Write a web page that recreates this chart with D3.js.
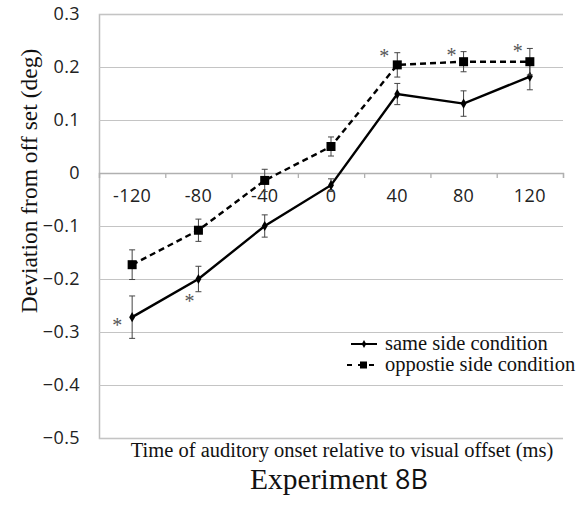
<!DOCTYPE html>
<html>
<head>
<meta charset="utf-8">
<script src="https://cdn.jsdelivr.net/npm/d3@7"></script>
<style>
  body { margin: 0; background: #fff; }
  svg { display: block; }
  .tick text { font-family: "Open Sans", sans-serif; fill: #222; letter-spacing: 0.4px; }
</style>
</head>
<body>
<div id="chart"></div>
<script>
// categories: time of auditory onset relative to visual offset (ms)
const categories = ["-120", "-80", "-40", "0", "40", "80", "120"];
const yTicks = [0.3, 0.2, 0.1, 0, -0.1, -0.2, -0.3, -0.4, -0.5];

// mean deviation (deg) and error bar half-width
const sameSide = [-0.272, -0.200, -0.100, -0.023, 0.149, 0.131, 0.182];
const sameSideErr = [0.040, 0.024, 0.021, 0.012, 0.020, 0.024, 0.025];
const oppositeSide = [-0.173, -0.108, -0.014, 0.050, 0.204, 0.210, 0.210];
const oppositeSideErr = [0.028, 0.021, 0.021, 0.018, 0.023, 0.019, 0.025];

// significance stars: [series, category]
const stars = [
  ["opp", "40"], ["opp", "80"], ["opp", "120"],
  ["same", "-120"], ["same", "-80"]
];

const width = 578, height = 510;
const margin = { top: 14, right: 15, bottom: 72, left: 99 };
const plotW = width - margin.left - margin.right;
const plotH = height - margin.top - margin.bottom;

const svg = d3.select("#chart").append("svg")
  .attr("width", width)
  .attr("height", height);

const x = d3.scaleBand().domain(categories).range([0, plotW]);
const y = d3.scaleLinear().domain([-0.5, 0.3]).range([plotH, 0]);

const g = svg.append("g")
  .attr("transform", "translate(" + [margin.left, margin.top] + ")");

// y axis with full-width grid lines
const yAxis = g.append("g")
  .call(d3.axisLeft(y)
    .tickValues(yTicks)
    .tickSize(-plotW)
    .tickPadding(19)
    .tickFormat(d => d === 0 ? "0" : d3.format(".1f")(d)));
yAxis.select(".domain").attr("stroke", "#bdbdbd").attr("stroke-width", 1.5);
yAxis.selectAll(".tick line").attr("stroke", "#c4c4c4").attr("stroke-width", 1);
yAxis.selectAll(".tick text").attr("font-size", 18);

// category axis sits on the zero line
const edge = d3.scaleLinear().domain([0, categories.length]).range([0, plotW]);
const xEdges = g.append("g")
  .attr("transform", "translate(0," + y(0) + ")")
  .call(d3.axisBottom(edge).tickValues(d3.range(categories.length + 1)).tickSize(5).tickFormat(""));
xEdges.select(".domain").attr("stroke", "#b0b0b0").attr("stroke-width", 1.3);
xEdges.selectAll(".tick line").attr("stroke", "#b0b0b0").attr("stroke-width", 1.3);

const xAxis = g.append("g")
  .attr("transform", "translate(0," + y(0) + ")")
  .call(d3.axisBottom(x).tickSize(0).tickPadding(16));
xAxis.select(".domain").remove();
xAxis.selectAll(".tick text").attr("font-size", 18);

const cx = c => x(c) + x.bandwidth() / 2;

const series = [
  { key: "same", values: sameSide, err: sameSideErr, dash: null },
  { key: "opp", values: oppositeSide, err: oppositeSideErr, dash: "6,4" }
];

const line = d3.line().x(d => cx(d.c)).y(d => y(d.v));

series.forEach(s => {
  const pts = categories.map((c, i) => ({ c: c, v: s.values[i], e: s.err[i] }));

  // error bars
  const eb = g.append("g").attr("stroke", "#444").attr("stroke-width", 1);
  eb.selectAll("line.v").data(pts).join("line")
    .attr("x1", d => cx(d.c)).attr("x2", d => cx(d.c))
    .attr("y1", d => y(d.v + d.e)).attr("y2", d => y(d.v - d.e));
  eb.selectAll("line.t").data(pts).join("line")
    .attr("x1", d => cx(d.c) - 3).attr("x2", d => cx(d.c) + 3)
    .attr("y1", d => y(d.v + d.e)).attr("y2", d => y(d.v + d.e));
  eb.selectAll("line.b").data(pts).join("line")
    .attr("x1", d => cx(d.c) - 3).attr("x2", d => cx(d.c) + 3)
    .attr("y1", d => y(d.v - d.e)).attr("y2", d => y(d.v - d.e));

  g.append("path")
    .datum(pts)
    .attr("fill", "none")
    .attr("stroke", "#000")
    .attr("stroke-width", 2.4)
    .attr("stroke-dasharray", s.dash)
    .attr("d", line);

  if (s.key === "same") {
    g.append("g").selectAll("path").data(pts).join("path")
      .attr("d", d3.symbol(d3.symbolDiamond, 30))
      .attr("transform", d => "translate(" + cx(d.c) + "," + y(d.v) + ")")
      .attr("fill", "#000");
  } else {
    g.append("g").selectAll("rect").data(pts).join("rect")
      .attr("x", d => cx(d.c) - 4.5).attr("y", d => y(d.v) - 4.5)
      .attr("width", 9).attr("height", 9)
      .attr("fill", "#000");
  }
});

// significance stars: opposite ones sit beside the top of the error bar,
// same-side ones below-left of the point (hand-placed in the original)
const starNudge = { "opp40": [-13, 0], "opp80": [-12, 0], "opp120": [-12, 0],
                    "same-120": [-15, 5], "same-80": [-9, 19] };
g.append("g").selectAll("text").data(stars).join("text")
  .attr("x", d => cx(d[1]) + starNudge[d[0] + d[1]][0])
  .attr("y", d => {
    const s = series.find(q => q.key === d[0]);
    const i = categories.indexOf(d[1]);
    const base = d[0] === "opp" ? y(s.values[i] + s.err[i]) : y(s.values[i]);
    return base + starNudge[d[0] + d[1]][1] + 10;
  })
  .attr("text-anchor", "middle")
  .attr("font-family", "Liberation Serif, serif")
  .attr("font-size", 20)
  .attr("fill", "#555")
  .text("*");

// legend
const legend = g.append("g").attr("transform", "translate(252,330)");
const legendItems = [
  { label: "same side condition", key: "same" },
  { label: "oppostie side condition", key: "opp" }
];
legendItems.forEach((d, i) => {
  const row = legend.append("g").attr("transform", "translate(0," + i * 21 + ")");
  if (d.key === "same") {
    row.append("line").attr("x1", 0).attr("x2", 26).attr("stroke", "#000").attr("stroke-width", 2);
    row.append("path").attr("d", d3.symbol(d3.symbolDiamond, 18)).attr("transform", "translate(13,0)");
  } else {
    row.append("line").attr("x1", -4).attr("x2", 26).attr("stroke", "#000").attr("stroke-width", 2)
      .attr("stroke-dasharray", "5,6");
    row.append("rect").attr("x", 9).attr("y", -3.5).attr("width", 7).attr("height", 7);
  }
  row.append("text")
    .attr("x", 34).attr("y", 6)
    .attr("font-family", "Liberation Serif, serif")
    .attr("font-size", 20.5)
    .attr("fill", "#111")
    .text(d.label);
});

// axis titles
svg.append("text")
  .attr("transform", "translate(37," + (margin.top + 167) + ") rotate(-90)")
  .attr("text-anchor", "middle")
  .attr("font-family", "Liberation Serif, serif")
  .attr("font-size", 23.5)
  .attr("fill", "#111")
  .text("Deviation from off set (deg)");

svg.append("text")
  .attr("x", 342).attr("y", 457)
  .attr("text-anchor", "middle")
  .attr("font-family", "Liberation Serif, serif")
  .attr("font-size", 20.5)
  .attr("fill", "#111")
  .text("Time of auditory onset relative to visual offset (ms)");

const title = svg.append("text")
  .attr("x", 339).attr("y", 489)
  .attr("text-anchor", "middle")
  .attr("font-family", "Liberation Serif, serif")
  .attr("font-size", 29.5)
  .attr("fill", "#111");
title.append("tspan").text("Experiment ");
title.append("tspan").attr("font-family", "Open Sans, sans-serif").attr("font-size", 27).text("8B");
</script>
</body>
</html>
